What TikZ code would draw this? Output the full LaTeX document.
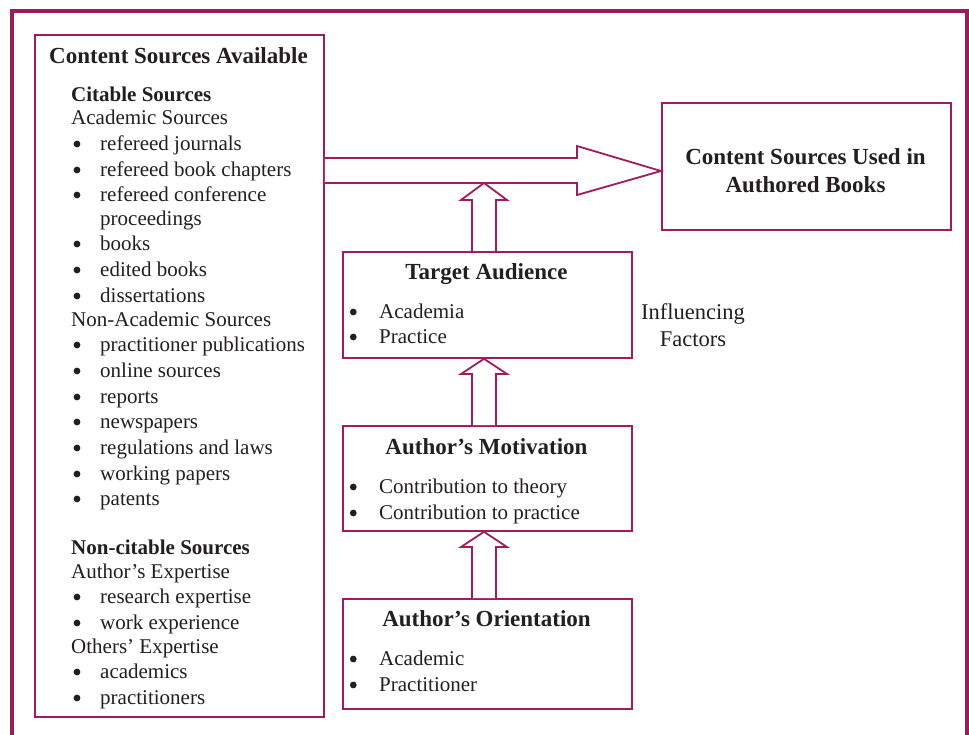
\documentclass[tikz,border=0pt]{standalone}
\usepackage{fontspec}
\setmainfont{Liberation Serif}
\definecolor{mag}{HTML}{A01C5E}
\definecolor{framec}{HTML}{9B1B5B}
\definecolor{ink}{HTML}{231F20}
\begin{document}
\begin{tikzpicture}[x=1pt,y=-1pt,
  box/.style={draw=mag,line width=1.8pt,fill=white,inner sep=0pt,anchor=north west},
  blk/.style={draw=mag,line width=1.8pt,fill=white,line join=miter},
  txt/.style={text=ink,inner sep=0pt,font=\fontsize{21}{25}\selectfont},
  hd/.style={text=ink,inner sep=0pt,font=\fontsize{23}{28}\selectfont\bfseries},
  sub/.style={txt,font=\fontsize{21}{25}\selectfont\bfseries},
  dotb/.style={fill=ink}]
\useasboundingbox (0,0) rectangle (969,735);
\fill[white] (0,0) rectangle (969,735);
% outer frame
\draw[framec,line width=3.2pt] (12,760) -- (12,11) -- (967,11) -- (967,760);
% boxes
\node[box,minimum width=289pt,minimum height=682pt] (src) at (34,34) {};
\node[box,minimum width=289pt,minimum height=127pt] (dst) at (661,102) {};
\node[box,minimum width=289pt,minimum height=106pt] (ta) at (342,251) {};
\node[box,minimum width=289pt,minimum height=105pt] (mo) at (342,425) {};
\node[box,minimum width=289pt,minimum height=110pt] (ori) at (342,598) {};
% big arrow
\coordinate (a1) at (src.east |- 0,158);
\coordinate (a2) at (src.east |- 0,183);
\coordinate (tip) at (dst.west |- 0,171);
\draw[blk] (a1) -- (577,158) -- (577,146) -- (tip) -- (577,195) -- (577,183) -- (a2);
% up arrows
\coordinate (u1) at (484,183);
\draw[blk] (ta.north -| 472,0) -- (472,200) -- (461,200) -- (u1) -- (507,200) -- (496,200) -- (ta.north -| 496,0);
\draw[blk] (mo.north -| 472,0) -- (472,374) -- (461,374) -- (ta.south -| 484,0) -- (507,374) -- (496,374) -- (mo.north -| 496,0);
\draw[blk] (ori.north -| 472,0) -- (472,547) -- (461,547) -- (mo.south -| 484,0) -- (507,547) -- (496,547) -- (ori.north -| 496,0);
% left box text
\node[hd,anchor=mid] (srct) at (178.5,61.5) {Content Sources Available};
\foreach \y/\t [count=\i] in {95/Citable Sources, 548/Non-citable Sources}
  \node[sub,anchor=mid west] (sh\i) at (71,\y+4) {\t};
\foreach \y/\t [count=\i] in {118/Academic Sources, 320/Non-Academic Sources, 572/Author’s Expertise, 647/Others’ Expertise}
  \node[txt,anchor=mid west] (sp\i) at (71,\y+4) {\t};
\foreach \y/\t [count=\i] in {144/refereed journals, 170/refereed book chapters, 195/refereed conference, 244/books, 270/edited books, 296/dissertations, 345/practitioner publications, 371/online sources, 397/reports, 422/newspapers, 448/regulations and laws, 474/working papers, 499/patents, 597/research expertise, 623/work experience, 672/academics, 698/practitioners}
  {\node[txt,anchor=mid west] (sb\i) at (100,\y+4) {\t};
   \fill[dotb] (77,\y) circle (3.4);}
\node[txt,anchor=mid west] (sc1) at (100,223) {proceedings};
% target box text
\node[hd,anchor=mid] (dt1) at (805.5,162) {Content Sources Used in};
\node[hd,anchor=mid] (dt2) at (805.5,190) {Authored Books};
% right boxes text
\node[hd,anchor=mid] (tat) at (486.5,277) {Target Audience};
\node[hd,anchor=mid] (mot) at (486.5,452) {Author’s Motivation};
\node[hd,anchor=mid] (ort) at (486.5,624) {Author’s Orientation};
\foreach \y/\t [count=\i] in {312/Academia, 337/Practice, 487/Contribution to theory, 513/Contribution to practice, 659/Academic, 685/Practitioner}
  {\node[txt,anchor=mid west] (rb\i) at (379,\y+4) {\t};
   \fill[dotb] (353.3,\y) circle (3.4);}
% influencing factors
\node[txt,font=\fontsize{22.5}{27}\selectfont,anchor=mid] (if1) at (693,317) {Influencing};
\node[txt,font=\fontsize{22.5}{27}\selectfont,anchor=mid] (if2) at (693,344) {Factors};
\end{tikzpicture}
\end{document}
